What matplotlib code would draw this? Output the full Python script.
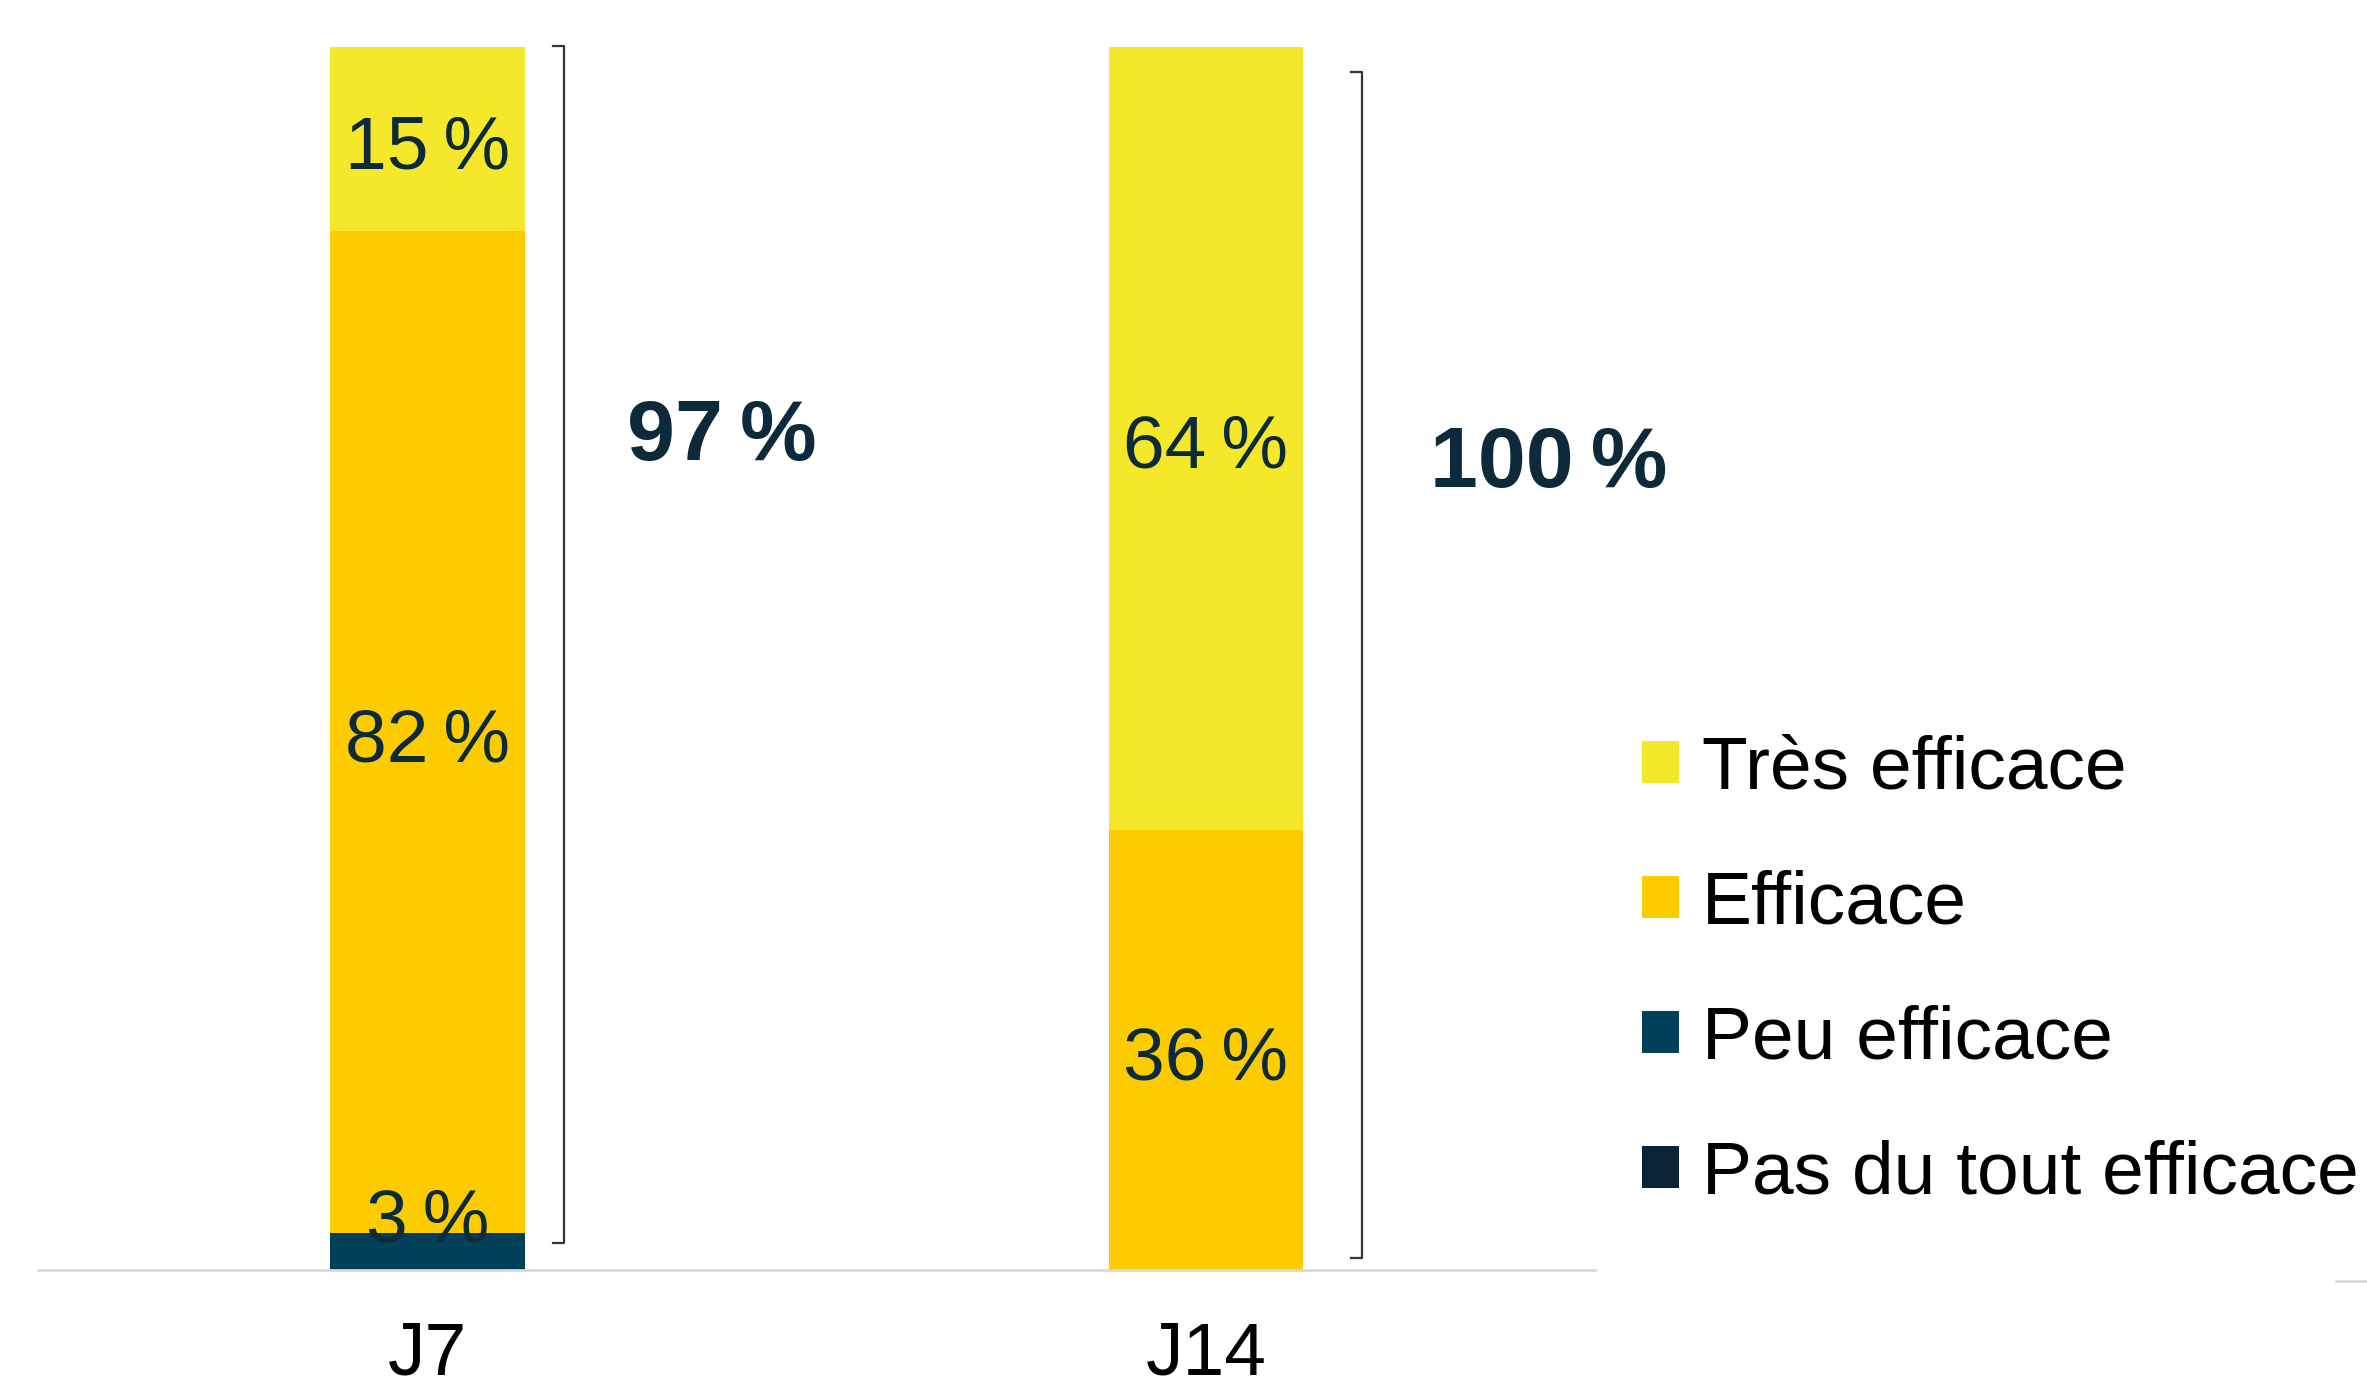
import numpy as np
import matplotlib
matplotlib.use("Agg")
import matplotlib.pyplot as plt
from matplotlib.lines import Line2D

plt.rcParams["font.family"] = ["Liberation Sans", "DejaVu Sans"]

# data
days = ["J7", "J14"]
series = ["Pas du tout efficace", "Peu efficace", "Efficace", "Très efficace"]
pas_du_tout = [0, 0]
peu = [3, 0]
efficace = [82, 36]
tres = [15, 64]
totals = ["97\u2009%", "100\u2009%"]
# bracket spans (bottom, top) as drawn in the original
bracket_lo = [2.2, 1.0]
bracket_hi = [100.1, 98.0]

colors = ["#0b2336", "#004058", "#fccb00", "#f5e72a"]
text_dark = "#0d2a3a"

fig = plt.figure(figsize=(23.67, 13.88), dpi=100)
ax = fig.add_axes([0.016, 0.085, 0.658, 0.881])

x = np.arange(len(days))
width = 0.25
bottom = np.zeros(len(days))
bars = []
for name, vals, col in zip(series, [pas_du_tout, peu, efficace, tres], colors):
    vals = np.array(vals, dtype=float)
    b = ax.bar(x, vals, width, bottom=bottom, color=col, label=name, zorder=2)
    bars.append(b)
    for xi, v, b0 in zip(x, vals, bottom):
        if v <= 0:
            continue
        y = b0 + v / 2 if v >= 5 else b0 + v + 1.7
        ax.text(xi, y - 0.8, f"{int(v)}\u2009%", ha="center", va="center",
                fontsize=54, color=text_dark, zorder=3)
    bottom += vals

# brackets and totals
br_off = [0.175, 0.2]
hook = 0.014
tot_off = [0.257, 0.288]
tot_y = [68.0, 65.8]
for i in range(len(days)):
    bx = x[i] + br_off[i]
    ax.plot([bx - hook, bx, bx, bx - hook],
            [bracket_hi[i], bracket_hi[i], bracket_lo[i], bracket_lo[i]],
            color="#333333", lw=1.6, clip_on=False)
    ax.text(x[i] + tot_off[i], tot_y[i], totals[i], ha="left", va="center",
            fontsize=62, fontweight="bold", color=text_dark)

ax.set_xlim(-0.5, 1.5)
ax.set_ylim(0, 100)
for s in ["top", "right", "left"]:
    ax.spines[s].set_visible(False)
ax.spines["bottom"].set_color("#d9d9d9")
ax.spines["bottom"].set_linewidth(2)
ax.set_yticks([])
ax.set_xticks(x)
ax.set_xticklabels(days, fontsize=54)
ax.tick_params(axis="x", length=0, pad=36)

handles = bars[::-1]
labels = series[::-1]
fig.legend(handles, labels, loc="center left", bbox_to_anchor=(0.665, 0.300),
           frameon=False, fontsize=54, handlelength=0.5, handleheight=0.5,
           handletextpad=0.3, labelspacing=0.88)

# small stray rule at lower right
fig.add_artist(Line2D([0.987, 1.0], [0.077, 0.077], color="#d9d9d9", lw=2))

fig.savefig("out.png", dpi=100, facecolor="white")
